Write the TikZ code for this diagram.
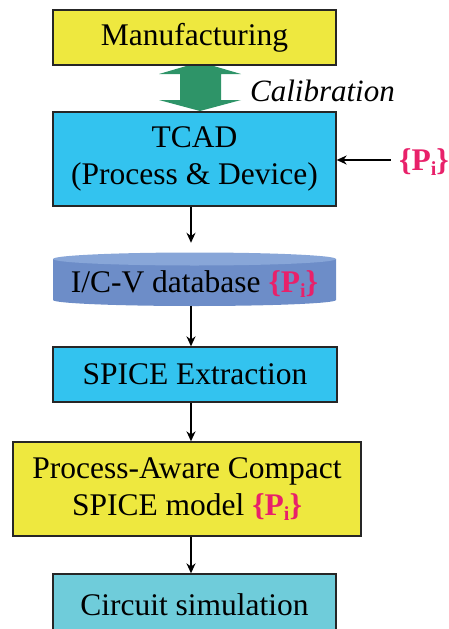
\documentclass[tikz,border=0pt]{standalone}
\usepackage{fontspec}
\setmainfont{Liberation Serif}
\usetikzlibrary{arrows.meta,calc}
\definecolor{yel}{HTML}{EEE83F}
\definecolor{cya}{HTML}{33C3EF}
\definecolor{cir}{HTML}{6FCCDA}
\definecolor{pmag}{HTML}{E8216A}
\definecolor{grn}{HTML}{2E9468}
\definecolor{dbtop}{HTML}{88A6D8}
\definecolor{dbbody}{HTML}{6D8DC8}
\newcommand{\Pset}{\textcolor{pmag}{\textbf{\{P\raisebox{-0.4ex}{\fontsize{20}{20}\selectfont i}\}}}}
\begin{document}
\begin{tikzpicture}[x=1pt,y=-1pt,
  box/.style={draw=black!85,line width=1.3pt,inner sep=0pt,align=center,
    font=\fontsize{31.5}{37}\selectfont},
  arr/.style={-{Stealth[length=10pt,width=9pt]},line width=2pt}]
\useasboundingbox (0,0) rectangle (449,629);
\coordinate (ax) at (191,0);
% green double arrow
\fill[grn] (200,62) -- (241,74) -- (221,74) -- (221,100) -- (241,100) -- (200,111)
  -- (159,100) -- (180,100) -- (180,74) -- (159,74) -- cycle;
\node[box,fill=yel,minimum width=283pt,minimum height=55pt] (man) at (194.5,37.5) {Manufacturing};
\node[box,fill=cya,minimum width=283pt,minimum height=94pt] (tcad) at (194.5,159) {TCAD\\(Process \& Device)};
\node[font=\fontsize{31}{37}\selectfont\itshape,anchor=center] (cal) at (322.5,91) {Calibration};
\node[font=\fontsize{31.5}{37}\selectfont,inner sep=0pt] (p1) at (424,162) {\Pset};
% database cylinder
\node[minimum width=283pt,minimum height=54pt,inner sep=0pt] (db) at (194.5,279) {};
\fill[dbbody] (53,259) -- (53,300) arc[start angle=180,end angle=0,x radius=141.5,y radius=6] -- (336,259) -- cycle;
\fill[dbtop] (194.5,259) ellipse[x radius=141.5,y radius=6.5];
\node[font=\fontsize{31.5}{37}\selectfont,inner sep=0pt] (dbt) at (194.5,284) {I/C-V database \Pset};
\node[box,fill=cya,minimum width=284pt,minimum height=55pt] (sp) at (195,374.5) {SPICE Extraction};
\node[box,fill=yel,minimum width=348pt,minimum height=94pt] (pa) at (187,489) {Process-Aware Compact\\SPICE model \Pset};
\node[box,fill=cir,minimum width=283pt,minimum height=62pt,text depth=0pt] (cs) at (194.5,605) {Circuit simulation};
% connectors
\draw[arr] (p1.west) ++(-8,-2) coordinate (pw) -- (tcad.east |- pw);
\draw[arr] (tcad.south -| ax) -- ($(db.north -| ax)+(0,-9)$);
\draw[arr] (db.south -| ax) -- (sp.north -| ax);
\draw[arr] (sp.south -| ax) -- (pa.north -| ax);
\draw[arr] (pa.south -| ax) -- (cs.north -| ax);
\end{tikzpicture}
\end{document}
